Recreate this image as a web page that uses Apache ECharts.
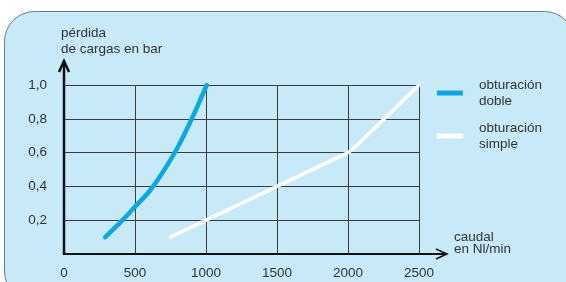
<!DOCTYPE html>
<html>
<head>
<meta charset="utf-8">
<script src="https://cdn.jsdelivr.net/npm/echarts@6/dist/echarts.min.js"></script>
<style>
  html, body { margin: 0; padding: 0; background: #fff; }
  #main { width: 566px; height: 282px; }
</style>
</head>
<body>
<div id="main"></div>
<script>
// datos
var xTicks = [0, 500, 1000, 1500, 2000, 2500];
var yTicks = [0.2, 0.4, 0.6, 0.8, 1.0];
var dobleX = [290, 400, 500, 600, 700, 800, 900, 1005];
var dobleY = [0.1, 0.19, 0.28, 0.37, 0.49, 0.63, 0.8, 1.0];
var simpleX = [750, 1000, 1500, 1900, 2000, 2070, 2500];
var simpleY = [0.1, 0.2, 0.4, 0.56, 0.6, 0.65, 1.0];

var nombreDoble = 'obturación\ndoble';
var nombreSimple = 'obturación\nsimple';

function pares(xs, ys) {
    var out = [];
    for (var i = 0; i < xs.length; i++) out.push([xs[i], ys[i]]);
    return out;
}

var fuente = '"Liberation Sans", Arial, sans-serif';
var colorTexto = '#333';
var tam = 13.5;

var myChart = echarts.init(document.getElementById('main'));

var option = {
    animation: false,
    textStyle: { fontFamily: fuente },
    grid: { left: 64, right: 147, top: 85, bottom: 28 },
    legend: [
        {
            data: [nombreDoble],
            left: 437, top: 69, padding: 0,
            itemWidth: 26, itemHeight: 5, icon: 'rect',
            textStyle: { color: colorTexto, fontSize: tam, lineHeight: 16, padding: [16, 0, 0, 11], fontFamily: fuente }
        },
        {
            data: [nombreSimple],
            left: 437, top: 112, padding: 0,
            itemWidth: 26, itemHeight: 5, icon: 'rect',
            textStyle: { color: colorTexto, fontSize: tam, lineHeight: 16, padding: [16, 0, 0, 11], fontFamily: fuente }
        }
    ],
    xAxis: {
        type: 'value',
        min: xTicks[0], max: xTicks[xTicks.length - 1], interval: 500,
        axisLine: { show: false },
        axisTick: { show: false },
        splitLine: { show: true, lineStyle: { color: '#3c3c3c', width: 1 } },
        axisLabel: {
            color: colorTexto, fontSize: tam, margin: 12, fontFamily: fuente,
            formatter: function (v) { return String(v); }
        }
    },
    yAxis: {
        type: 'value',
        min: 0, max: yTicks[yTicks.length - 1], interval: 0.2,
        axisLine: { show: false },
        axisTick: { show: false },
        splitLine: { show: true, lineStyle: { color: '#3c3c3c', width: 1 } },
        axisLabel: {
            color: colorTexto, fontSize: tam, margin: 17, fontFamily: fuente,
            formatter: function (v) {
                if (v === 0) return '';
                return v.toFixed(1).replace('.', ',');
            }
        }
    },
    graphic: [
        {
            type: 'rect', z: -10, silent: true,
            shape: { x: 4.5, y: 11.5, width: 570, height: 290, r: 30 },
            style: { fill: '#c8e9f8', stroke: '#6e7c85', lineWidth: 1 }
        },
        {
            type: 'text', left: 61, top: 25,
            style: { text: 'pérdida\nde cargas en bar', fill: colorTexto, font: tam + 'px ' + fuente, lineHeight: 16 }
        },
        {
            type: 'text', left: 454, top: 230,
            style: { text: 'caudal\nen Nl/min', fill: colorTexto, font: tam + 'px ' + fuente, lineHeight: 12.5 }
        }
    ],
    series: [
        {
            name: nombreDoble,
            type: 'line',
            data: pares(dobleX, dobleY),
            smooth: 0.35,
            showSymbol: false,
            z: 5,
            itemStyle: { color: '#0aa8e4' },
            lineStyle: { color: '#0aa8e4', width: 4.5, cap: 'round' }
        },
        {
            name: nombreSimple,
            type: 'line',
            data: pares(simpleX, simpleY),
            smooth: 0.2,
            showSymbol: false,
            z: 5,
            itemStyle: { color: '#ffffff' },
            lineStyle: { color: '#ffffff', width: 3.5, cap: 'round' }
        }
    ]
};

myChart.setOption(option);

// ejes con flecha (se salen del area de la grilla)
var o = myChart.convertToPixel({ gridIndex: 0 }, [0, 0]);
var ejes = [
    { type: 'polyline', z: 20, shape: { points: [[o[0], o[1] + 1], [o[0], 61]] },
      style: { stroke: '#111', lineWidth: 2.5, fill: null } },
    { type: 'polyline', z: 20, shape: { points: [[o[0] - 5, 72], [o[0], 61], [o[0] + 5, 72]] },
      style: { stroke: '#111', lineWidth: 2.5, fill: null } },
    { type: 'polyline', z: 20, shape: { points: [[o[0], o[1]], [447, o[1]]] },
      style: { stroke: '#111', lineWidth: 2, fill: null } },
    { type: 'polyline', z: 20, shape: { points: [[436, o[1] - 5], [447, o[1]], [436, o[1] + 5]] },
      style: { stroke: '#111', lineWidth: 1.5, fill: null } }
];
myChart.setOption({ graphic: option.graphic.concat(ejes) });
</script>
</body>
</html>
